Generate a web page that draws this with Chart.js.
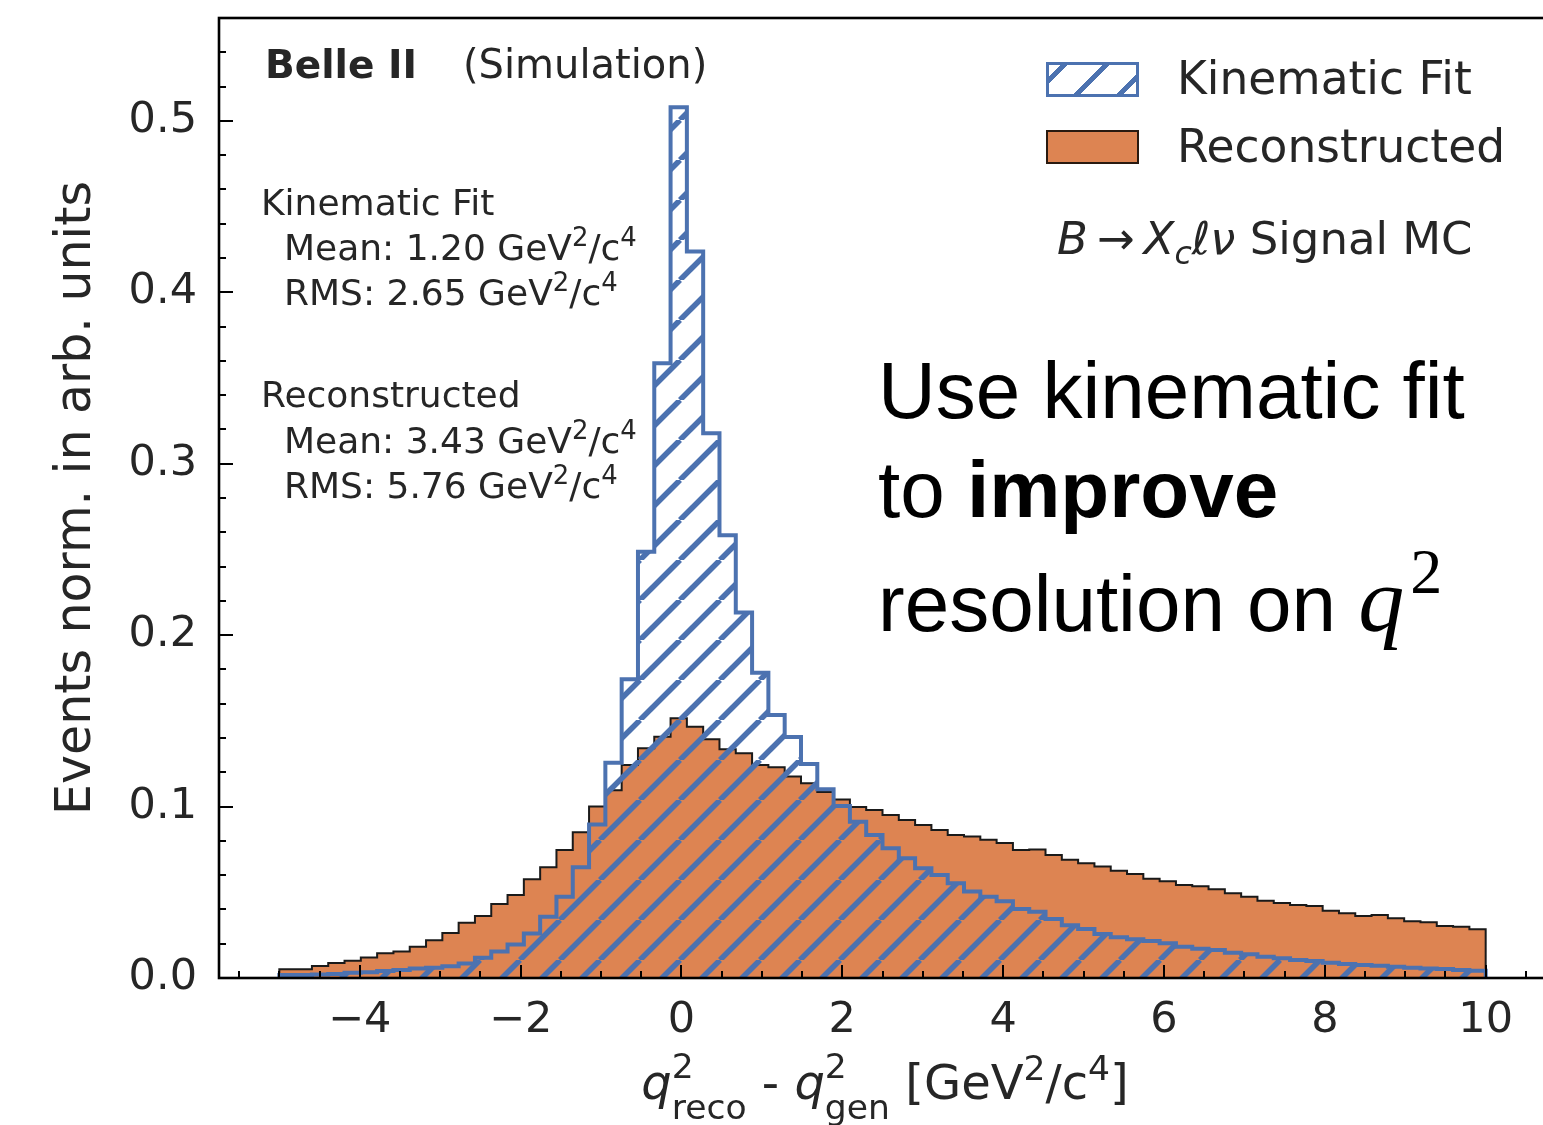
<!DOCTYPE html>
<html>
<head>
    <title>q2 resolution</title>
    <meta charset="UTF-8">
    <style>
        body {
            margin: 0;
            overflow: hidden;
            background: #fff;
        }
        #wrap {
            position: relative;
            width: 1560px;
            height: 1125px;
        }
        .t {
            position: absolute;
            white-space: nowrap;
            font-family: 'DejaVu Sans', sans-serif;
            color: #262626;
            line-height: 1;
            transform: translateY(-50%);
        }
        .t sup {
            font-size: 0.72em;
            line-height: 0;
            vertical-align: 0.55em;
        }
        .big {
            font-family: 'Liberation Sans', Arial, sans-serif;
            font-size: 80px;
            color: #000;
        }
        .swatch {
            position: absolute;
            box-sizing: border-box;
        }
        .st {
            display: inline-flex;
            flex-direction: column;
            font-size: 0.72em;
            line-height: 1.2;
            vertical-align: 0.62em;
        }
    </style>
    <script src="https://cdn.jsdelivr.net/npm/chart.js"></script>
</head>
<body>
<div id="wrap">
    <canvas id="q2Chart"></canvas>

    <div class="t" style="left:265px; top:64px; font-size:39px; font-weight:bold;">Belle II</div>
    <div class="t" style="left:463px; top:64px; font-size:40px;">(Simulation)</div>

    <div class="t" style="left:261px; top:203px; font-size:36px;">Kinematic Fit</div>
    <div class="t" style="left:284px; top:248px; font-size:36px;">Mean: 1.20 GeV<sup>2</sup>/c<sup>4</sup></div>
    <div class="t" style="left:284px; top:293px; font-size:36px;">RMS: 2.65 GeV<sup>2</sup>/c<sup>4</sup></div>
    <div class="t" style="left:261px; top:395px; font-size:36px;">Reconstructed</div>
    <div class="t" style="left:284px; top:441px; font-size:36px;">Mean: 3.43 GeV<sup>2</sup>/c<sup>4</sup></div>
    <div class="t" style="left:284px; top:486px; font-size:36px;">RMS: 5.76 GeV<sup>2</sup>/c<sup>4</sup></div>

    <div class="swatch" style="left:1046px; top:62px; width:93px; height:35px; border:3px solid #4c72b0;
         background: repeating-linear-gradient(-45deg, transparent 0 9px, #4c72b0 9px 14px, transparent 14px 30px);"></div>
    <div class="swatch" style="left:1046px; top:130px; width:93px; height:34px; border:2px solid #2a1a10; background:#dd8452;"></div>
    <div class="t" style="left:1177px; top:79px; font-size:45.5px;">Kinematic Fit</div>
    <div class="t" style="left:1177px; top:147px; font-size:45.5px;">Reconstructed</div>

    <div class="t" style="left:1057px; top:243px; font-size:45px;"><i>B</i>&#8201;→&#8201;<i>X</i><sub style="font-size:0.7em;"><i>c</i></sub><i>ℓν</i> Signal MC</div>

    <div class="t big" style="left:878px; top:391px;">Use kinematic fit</div>
    <div class="t big" style="left:878px; top:490px;">to <b>improve</b></div>
    <div class="t big" style="left:878px; top:600px;">resolution on <span style="font-family:'Liberation Serif',serif; font-style:italic; font-size:1.15em;">q</span><span style="font-family:'Liberation Serif',serif; font-size:0.8em; position:relative; top:-0.6em; left:6px;">2</span></div>

    <div class="t" id="xTitle" style="left:885px; top:1087px; font-size:48px; transform:translate(-50%,-50%);"><i>q</i><span class="st"><span>2</span><span>reco</span></span> - <i>q</i><span class="st"><span>2</span><span>gen</span></span> [GeV<sup>2</sup>/c<sup>4</sup>]</div>
</div>

<script>
    // histogram range, 74 equal bins from -5 to 10
    const binLo = -5;
    const binHi = 10;

    // Kinematic Fit (hatched step histogram)
    const kinFit = [
        0.0018, 0.0018, 0.0021, 0.0023, 0.0031, 0.0033, 0.0041, 0.0047, 0.0056, 0.0060,
        0.0068, 0.0085, 0.0118, 0.0155, 0.0196, 0.0259, 0.0358, 0.0474, 0.0646, 0.0895,
        0.1256, 0.1743, 0.2487, 0.3586, 0.5080, 0.4238, 0.3178, 0.2582, 0.2132, 0.1780,
        0.1534, 0.1406, 0.1248, 0.1101, 0.1004, 0.0912, 0.0834, 0.0757, 0.0698, 0.0640,
        0.0601, 0.0552, 0.0504, 0.0474, 0.0447, 0.0403, 0.0387, 0.0344, 0.0307, 0.0286,
        0.0257, 0.0237, 0.0226, 0.0216, 0.0202, 0.0183, 0.0170, 0.0163, 0.0148, 0.0138,
        0.0124, 0.0115, 0.0105, 0.0099, 0.0089, 0.0082, 0.0076, 0.0072, 0.0066, 0.0060,
        0.0056, 0.0053, 0.0047, 0.0043
    ];

    // Reconstructed (filled histogram)
    const reco = [
        0.0051, 0.0051, 0.0070, 0.0087, 0.0100, 0.0120, 0.0144, 0.0154, 0.0183, 0.0220,
        0.0263, 0.0323, 0.0362, 0.0432, 0.0484, 0.0576, 0.0646, 0.0747, 0.0850, 0.1001,
        0.1095, 0.1243, 0.1340, 0.1408, 0.1515, 0.1466, 0.1393, 0.1334, 0.1311, 0.1243,
        0.1229, 0.1175, 0.1136, 0.1085, 0.1041, 0.0998, 0.0980, 0.0951, 0.0922, 0.0893,
        0.0863, 0.0834, 0.0826, 0.0807, 0.0787, 0.0747, 0.0749, 0.0718, 0.0690, 0.0669,
        0.0650, 0.0626, 0.0606, 0.0579, 0.0565, 0.0543, 0.0535, 0.0517, 0.0494, 0.0474,
        0.0450, 0.0437, 0.0426, 0.0420, 0.0393, 0.0377, 0.0362, 0.0367, 0.0348, 0.0331,
        0.0325, 0.0304, 0.0299, 0.0284
    ];

    const xTicks = [-4, -2, 0, 2, 4, 6, 8, 10];
    const yTicks = [0.0, 0.1, 0.2, 0.3, 0.4, 0.5];

    // step outline: up at the first edge, one point per bin, down at the last edge
    function stepPoints(vals) {
        const w = (binHi - binLo) / vals.length;
        const pts = [{x: binLo, y: 0}];
        vals.forEach((v, i) => pts.push({x: binLo + i * w, y: v}));
        pts.push({x: binHi, y: vals[vals.length - 1]});
        pts.push({x: binHi, y: 0});
        return pts;
    }

    function makeHatch(color, size, width) {
        const c = document.createElement('canvas');
        c.width = size;
        c.height = size;
        const g = c.getContext('2d');
        g.strokeStyle = color;
        g.lineWidth = width;
        for (const off of [-size, 0, size]) {
            g.beginPath();
            g.moveTo(off, size);
            g.lineTo(off + size, 0);
            g.stroke();
        }
        return g.createPattern(c, 'repeat');
    }

    const blue = '#4c72b0';
    const orange = '#dd8452';
    const textColor = '#262626';

    // spines and inward ticks, like matplotlib
    const frame = {
        id: 'frame',
        afterDatasetsDraw(chart) {
            const {ctx, chartArea: a, scales: {x, y}} = chart;
            ctx.save();
            ctx.strokeStyle = '#000';
            ctx.lineWidth = 2;
            ctx.beginPath();
            for (let v = 0; v <= 0.56; v += 0.02) {
                const py = Math.round(y.getPixelForValue(v));
                const major = Math.abs(v * 10 - Math.round(v * 10)) < 1e-6;
                ctx.moveTo(a.left, py);
                ctx.lineTo(a.left + (major ? 14 : 7), py);
            }
            for (let v = -5.5; v <= 10.5; v += 0.5) {
                const px = Math.round(x.getPixelForValue(v));
                const major = Math.abs(v % 2) < 1e-6;
                ctx.moveTo(px, a.bottom);
                ctx.lineTo(px, a.bottom - (major ? 13 : 7));
            }
            ctx.stroke();
            ctx.lineWidth = 2.6;
            ctx.strokeRect(a.left, a.top, a.right - a.left, a.bottom - a.top);
            ctx.restore();
        }
    };

    const ctx = document.getElementById('q2Chart').getContext('2d');
    const chart = new Chart(ctx, {
        type: 'line',
        data: {
            datasets: [{
                label: 'Kinematic Fit',
                data: stepPoints(kinFit),
                stepped: true,
                borderColor: blue,
                borderWidth: 4,
                backgroundColor: makeHatch(blue, 40, 5.5),
                fill: 'origin',
                pointRadius: 0,
                borderJoinStyle: 'miter',
            }, {
                label: 'Reconstructed',
                data: stepPoints(reco),
                stepped: true,
                borderColor: '#1a1a1a',
                borderWidth: 2,
                backgroundColor: orange,
                fill: 'origin',
                pointRadius: 0,
                borderJoinStyle: 'miter',
            }],
        },
        options: {
            responsive: true,
            maintainAspectRatio: false,
            animation: false,
            layout: {
                padding: {top: 18, right: 14, left: 0, bottom: 0},
            },
            plugins: {
                legend: {display: false},
                tooltip: {enabled: false},
            },
            scales: {
                x: {
                    type: 'linear',
                    min: -5.75,
                    max: 10.75,
                    grid: {display: false, drawTicks: false},
                    border: {display: false},
                    afterBuildTicks: (s) => { s.ticks = xTicks.map(v => ({value: v})); },
                    afterFit: (s) => {
                        s.height = 147;
                        s.paddingLeft = 0;
                        s.paddingRight = 0;
                    },
                    ticks: {
                        autoSkip: false,
                        maxRotation: 0,
                        padding: 17,
                        color: textColor,
                        font: {family: 'DejaVu Sans', size: 43},
                        callback: (v) => String(v).replace('-', '\u2212'),
                    },
                },
                y: {
                    type: 'linear',
                    min: 0,
                    max: 0.56,
                    grid: {display: false, drawTicks: false},
                    border: {display: false},
                    afterBuildTicks: (s) => { s.ticks = yTicks.map(v => ({value: v})); },
                    afterFit: (s) => {
                        s.width = 219;
                        s.paddingTop = 0;
                        s.paddingBottom = 0;
                    },
                    ticks: {
                        autoSkip: false,
                        padding: 22,
                        color: textColor,
                        font: {family: 'DejaVu Sans', size: 43},
                        callback: (v) => Number(v).toFixed(1),
                    },
                    title: {
                        display: true,
                        text: 'Events norm. in arb. units',
                        color: textColor,
                        font: {family: 'DejaVu Sans', size: 49},
                        padding: {top: 48, bottom: 0},
                    },
                },
            },
        },
        plugins: [frame],
    });
</script>
</body>
</html>
